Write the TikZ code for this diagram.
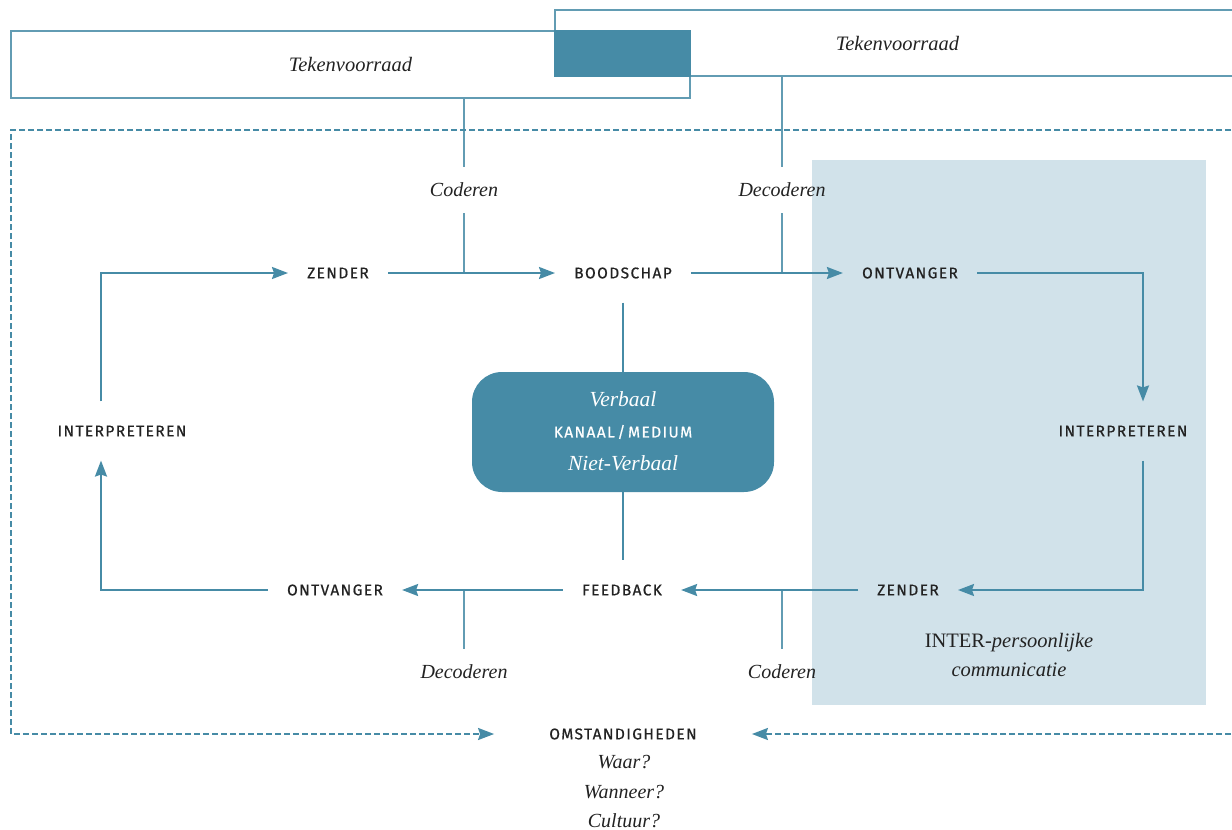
\documentclass[tikz,border=0pt]{standalone}
\usepackage{fontspec}
\setmainfont{Liberation Serif}
\newfontfamily\capsfont[LetterSpace=9,FakeBold=0.6]{Fira Sans}
\usetikzlibrary{arrows.meta,positioning,calc}
\definecolor{petrol}{HTML}{468BA6}
\definecolor{panel}{HTML}{D1E2EA}
\definecolor{ink}{HTML}{222222}

\begin{document}
\begin{tikzpicture}[
  x=1pt, y=-1pt,
  >={Stealth[length=16pt,width=12pt,inset=2pt]},
  stage/.style={font=\capsfont\fontsize{15.5}{18}\selectfont, text=ink, inner xsep=19pt, inner ysep=24pt},
  note/.style={font=\fontsize{20}{29}\selectfont\itshape, text=ink, inner ysep=16pt},
  store/.style={draw=petrol!85, line width=1.2pt, inner sep=0pt, font=\fontsize{20.5}{24}\selectfont\itshape, text=ink},
  flow/.style={->, draw=petrol, line width=2pt},
  link/.style={draw=petrol!85, line width=1.5pt},
  scene/.style={draw=petrol, line width=2pt, dash pattern=on 6pt off 3pt}
]
\useasboundingbox (0,0) rectangle (1232,830);

% Shaded INTER panel
\fill[panel] (812,160) rectangle (1206,705);

% Sign stores
\node[store, minimum width=679pt, minimum height=67pt] (voorraadL) at (350.5,64.5) {Tekenvoorraad};
\node[store, minimum width=685pt, minimum height=66pt] (voorraadR) at (897.5,43) {Tekenvoorraad};
\fill[petrol] (voorraadR.west |- voorraadL.north) rectangle (voorraadL.east |- voorraadR.south);

% Stages of the loop
\node[stage] (zender) at (338,273) {ZENDER};
\node[stage] (boodschap) at (623,273) {BOODSCHAP};
\node[stage] (ontvanger) at (910,273) {ONTVANGER};
\node[stage] (interpL) at (122,431) {INTERPRETEREN};
\node[stage] (interpR) at (1123,431) {INTERPRETEREN};
\node[stage] (ontvangerB) at (335,590) {ONTVANGER};
\node[stage] (feedback) at (622,590) {FEEDBACK};
\node[stage] (zenderB) at (908,590) {ZENDER};

% Channel box
\node[fill=petrol, rounded corners=30pt, minimum width=302pt, minimum height=120pt] (kanaal) at (623,432) {};
\node[note, font=\fontsize{21.5}{26}\selectfont\itshape, text=white, inner ysep=0pt] (verbaal) at ([yshift=33pt]kanaal.center) {Verbaal};
\node[stage, text=white, inner sep=0pt] (medium) at (kanaal.center) {KANAAL\,/\,MEDIUM};
\node[note, font=\fontsize{21.5}{26}\selectfont\itshape, text=white, inner ysep=0pt] (nietverbaal) at ([yshift=-31pt]kanaal.center) {Niet-Verbaal};

% Coding labels
\node[note] (coderen) at (464,190) {Coderen};
\node[note] (decoderen) at (782,190) {Decoderen};
\node[note] (decoderenB) at (464,672) {Decoderen};
\node[note] (coderenB) at (782,672) {Coderen};

\node[font=\fontsize{20.5}{29}\selectfont, text=ink, align=center] (inter) at (1009,655)
  {INTER-\textit{persoonlijke}\\\textit{communicatie}};

% Circumstances
\node[stage, inner xsep=55pt, inner ysep=4pt] (omst) at (623,734) {OMSTANDIGHEDEN};
\node[note, inner ysep=0pt] (waar) at (624,762) {Waar?};
\node[note, inner ysep=0pt] (wanneer) at (624,792) {Wanneer?};
\node[note, inner ysep=0pt] (cultuur) at (624,821) {Cultuur?};

% Coding links
\draw[link] (voorraadL.south -| coderen) -- (coderen.north);
\draw[link] (coderen.south) -- (coderen |- zender);
\draw[link] (voorraadR.south -| decoderen) -- (decoderen.north);
\draw[link] (decoderen.south) -- (decoderen |- ontvanger);
\draw[link] (decoderenB.north) -- (decoderenB |- ontvangerB);
\draw[link] (coderenB.north) -- (coderenB |- feedback);

% Channel links
\draw[flow, -] (boodschap.south -| kanaal) -- (kanaal.north);
\draw[flow, -] (kanaal.south) -- (kanaal.south |- feedback.north);

% Flow arrows
\draw[flow] (zender) -- (boodschap);
\draw[flow] (boodschap) -- (ontvanger);
\draw[flow] (ontvanger.east) -| ($(interpR.north)+(20,0)$);
\draw[flow] ($(interpR.south)+(20,0)$) |- (zenderB.east);
\draw[flow] (zenderB) -- (feedback);
\draw[flow] (feedback) -- (ontvangerB);
\draw[flow] (ontvangerB.west) -| ($(interpL.south)+(-21,0)$);
\draw[flow] ($(interpL.north)+(-21,0)$) |- (zender.west);

% Dashed surroundings
\draw[scene, ->] (1240,130) -| (11,734) -- (omst.west);
\draw[scene, ->] (1240,734) -- (omst.east);

\end{tikzpicture}
\end{document}
